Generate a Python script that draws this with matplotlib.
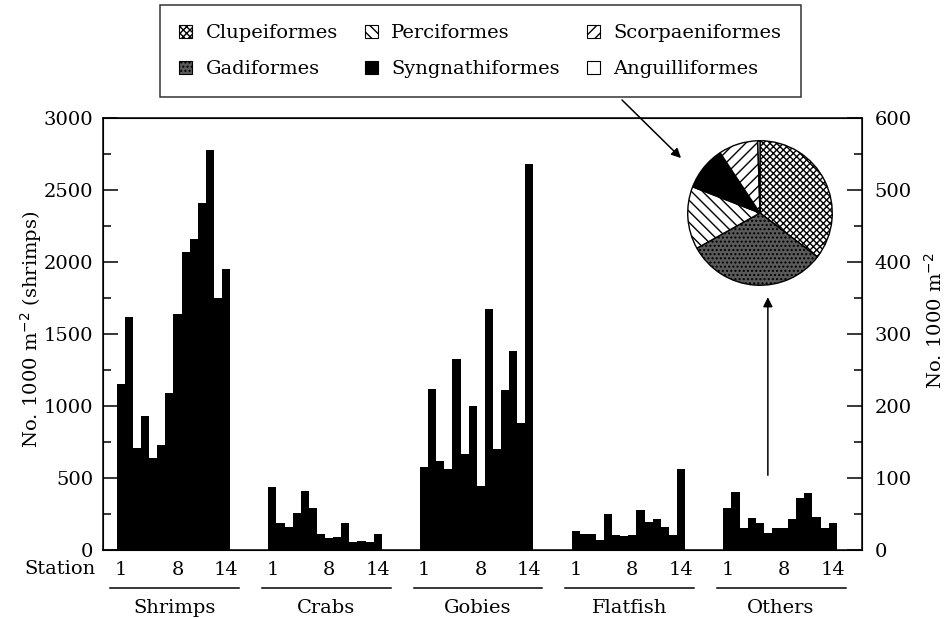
import numpy as np
import matplotlib
matplotlib.use("Agg")
import matplotlib.pyplot as plt
from matplotlib.patches import Patch

plt.rcParams['font.family'] = 'DejaVu Serif'
plt.rcParams['font.size'] = 14
plt.rcParams['hatch.linewidth'] = 1.0

# station values, 14 stations per group
shrimps = [1150, 1620, 710, 930, 640, 730, 1090, 1640, 2070, 2160, 2410, 2780, 1750, 1950]  # left axis
crabs = [87, 37, 32, 51, 82, 58, 22, 16, 18, 38, 11, 13, 11, 22]  # right axis
gobies = [115, 224, 123, 112, 265, 133, 200, 89, 335, 140, 222, 276, 177, 536]
flatfish = [27, 22, 22, 14, 50, 21, 20, 21, 55, 39, 43, 32, 21, 112]
others = [58, 80, 31, 45, 38, 24, 31, 31, 43, 72, 79, 46, 31, 37]

groups = ["Shrimps", "Crabs", "Gobies", "Flatfish", "Others"]
station_ticks = [1, 8, 14]

# composition of "Others" (percent)
orders = ["Clupeiformes", "Gadiformes", "Perciformes", "Syngnathiformes",
          "Scorpaeniformes", "Anguilliformes"]
order_pct = [35.4, 31.5, 14.0, 9.8, 8.8, 0.5]
order_face = ["white", "#5a5a5a", "white", "black", "white", "white"]
order_hatch = ["xxxxx", "....", "\\\\\\", None, "///", None]

G = 18.72  # group spacing in bar units
fig = plt.figure(figsize=(9.45, 6.19), dpi=100)
ax = fig.add_axes([103/945, 1-550/619, (862-103)/945, (550-118)/619])
ax2 = ax.twinx()

st = np.arange(14)
ax.bar(st, shrimps, width=1.0, align='edge', color='black', linewidth=0)
for g, vals in enumerate([crabs, gobies, flatfish, others], start=1):
    ax2.bar(g*G + st, vals, width=1.0, align='edge', color='black', linewidth=0)

ax.set_xlim(-1.69, 92.0)
ax.set_ylim(0, 3000)
ax2.set_ylim(0, 600)

ax.set_yticks(np.arange(0, 3001, 500))
ax.set_yticks(np.arange(0, 3001, 250), minor=True)
ax2.set_yticks(np.arange(0, 601, 100))
ax2.set_yticks(np.arange(0, 601, 50), minor=True)
for a in (ax, ax2):
    a.tick_params(axis='y', which='major', direction='in', length=11, width=1.1, pad=7, labelsize=14)
    a.tick_params(axis='y', which='minor', direction='in', length=6, width=1.1)
ax2.tick_params(axis='y', pad=9)
for s in ax.spines.values():
    s.set_linewidth(1.1)

ax.set_ylabel("No. 1000 m$^{-2}$ (shrimps)", fontsize=14)
ax.yaxis.set_label_coords((44-103)/759, 0.51)
ax2.set_ylabel("No. 1000 m$^{-2}$", fontsize=14)
ax2.yaxis.set_label_coords((924-103)/759, 0.53)

xt = []
xl = []
for g in range(5):
    for s in station_ticks:
        xt.append(g*G + s - 0.5)
        xl.append(str(s))
ax.set_xticks(xt)
ax.set_xticklabels(xl)
ax.tick_params(axis='x', length=0, pad=8, labelsize=14)

trans = ax.get_xaxis_transform()
ax.text(-1.69 - 0.95, -0.045, "Station", transform=trans, ha='right', va='center', fontsize=14)
for g, name in enumerate(groups):
    ax.plot([g*G - 0.8, g*G + 15.1], [-0.088, -0.088], color='black', lw=1.1,
            transform=trans, clip_on=False)
    ax.text(g*G + 7.1, -0.135, name, transform=trans, ha='center', va='center', fontsize=14)

# arrow up from the Others group to the pie
ax2.annotate("", xy=(4*G + 5.5, 355), xytext=(4*G + 5.5, 100),
             arrowprops=dict(arrowstyle='-|>', color='black', lw=1.1, mutation_scale=14))

# pie
pax = fig.add_axes([(760-73)/945, 1-286/619, 146/945, 146/619])
wedges, _ = pax.pie(order_pct, startangle=90, counterclock=False, colors=order_face,
                    wedgeprops=dict(edgecolor='black', linewidth=1.0))
for w, h in zip(wedges, order_hatch):
    if h:
        w.set_hatch(h)
pax.set_xlim(-1.01, 1.01)
pax.set_ylim(-1.01, 1.01)
pax.set_aspect('equal')

handles = [Patch(facecolor=f, edgecolor='black', hatch=h, linewidth=0.8)
           for f, h in zip(order_face, order_hatch)]
leg = fig.legend(handles, orders, ncol=3, loc='upper left',
                 bbox_to_anchor=(160/945, 1-5/619), borderaxespad=0, fontsize=14,
                 frameon=True, fancybox=False, edgecolor='black',
                 handlelength=0.65, handleheight=0.65, handletextpad=0.7,
                 columnspacing=1.4, labelspacing=0.9, borderpad=1.0)
leg.get_frame().set_linewidth(1.1)

fig.add_artist(matplotlib.patches.FancyArrowPatch(
    (620/945, 1-98/619), (683/945, 1-160/619), transform=fig.transFigure,
    arrowstyle='-|>', mutation_scale=14, color='black', lw=1.1))

fig.savefig("out.png", dpi=100)
